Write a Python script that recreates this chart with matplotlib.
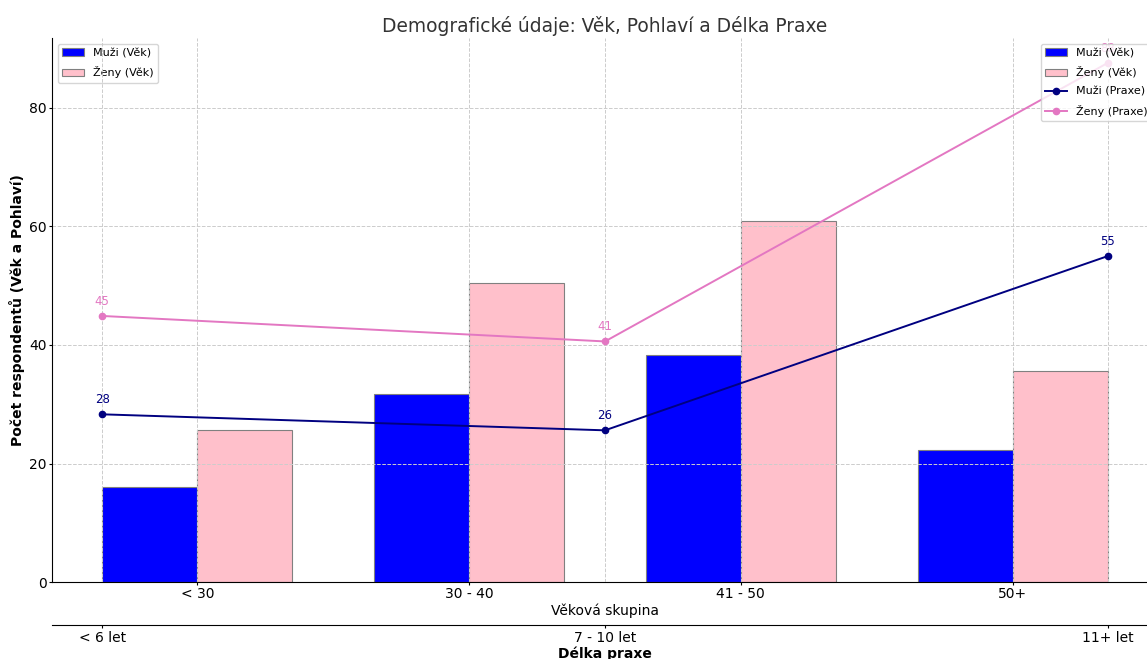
import numpy as np
import matplotlib.pyplot as plt

# data
vekove_skupiny = ["< 30", "30 - 40", "41 - 50", "50+"]
muzi_vek = [16.1, 31.7, 38.3, 22.3]
zeny_vek = [25.7, 50.5, 60.9, 35.6]

praxe = ["< 6 let", "7 - 10 let", "11+ let"]
muzi_praxe = [28.3, 25.6, 55.0]
zeny_praxe = [44.9, 40.6, 87.6]

fig = plt.figure(figsize=(11.47, 6.59), dpi=100)
ax = fig.add_axes([0.0453, 0.1168, 0.9643, 0.8255])

x = np.arange(len(vekove_skupiny))
w = 0.35
ax.bar(x - w/2, muzi_vek, w, color="blue", edgecolor="grey", linewidth=0.8, label="Muži (Věk)")
ax.bar(x + w/2, zeny_vek, w, color="pink", edgecolor="grey", linewidth=0.8, label="Ženy (Věk)")
ax.set_xticks(x)
ax.set_xticklabels(vekove_skupiny, fontsize=10)
ax.set_xlabel("Věková skupina", fontsize=10, labelpad=2)
ax.set_ylabel("Počet respondentů (Věk a Pohlaví)", fontsize=10, fontweight="bold", labelpad=3)
ax.set_ylim(0, 91.8)
ax.set_yticks([0, 20, 40, 60, 80])
ax.tick_params(axis="y", labelsize=10, length=2.5, pad=1.5)
ax.tick_params(axis="x", length=2, pad=1.5)
ax.grid(True, linestyle="--", color="#cccccc", linewidth=0.7)
for s in ["top", "right"]:
    ax.spines[s].set_visible(False)
ax.set_title("Demografické údaje: Věk, Pohlaví a Délka Praxe", fontsize=13.4, color="#333333", pad=4)

# druhá osa x pro délku praxe
ax2 = ax.twiny()
xp = np.arange(len(praxe))
l1, = ax2.plot(xp, muzi_praxe, marker="o", markersize=4.5, color="navy", linewidth=1.4, label="Muži (Praxe)")
l2, = ax2.plot(xp, zeny_praxe, marker="o", markersize=4.5, color="#e377c2", linewidth=1.4, label="Ženy (Praxe)")
for xi, v in zip(xp, muzi_praxe):
    ax2.annotate(f"{v:.0f}", (xi, v), textcoords="offset points", xytext=(0, 8),
                 ha="center", fontsize=8.5, color="navy")
for xi, v in zip(xp, zeny_praxe):
    ax2.annotate(f"{v:.0f}", (xi, v), textcoords="offset points", xytext=(0, 8),
                 ha="center", fontsize=8.5, color="#e377c2")
ax2.set_xticks(xp)
ax2.set_xticklabels(praxe, fontsize=10)
ax2.xaxis.set_ticks_position("bottom")
ax2.xaxis.set_label_position("bottom")
ax2.spines["bottom"].set_position(("outward", 31))
ax2.tick_params(axis="x", length=2.5, pad=1.5)
for s in ["top", "right", "left"]:
    ax2.spines[s].set_visible(False)
ax2.set_xlabel("Délka praxe", fontsize=10, fontweight="bold", labelpad=1)
ax2.grid(True, axis="x", linestyle="--", color="#cccccc", linewidth=0.7)

ax.legend(loc="upper left", fontsize=8, labelspacing=0.75)
h1, lab1 = ax.get_legend_handles_labels()
ax2.legend(h1 + [l1, l2], lab1 + ["Muži (Praxe)", "Ženy (Praxe)"], loc="upper right",
           fontsize=8, labelspacing=0.75)

fig.savefig("out.png", dpi=100)
